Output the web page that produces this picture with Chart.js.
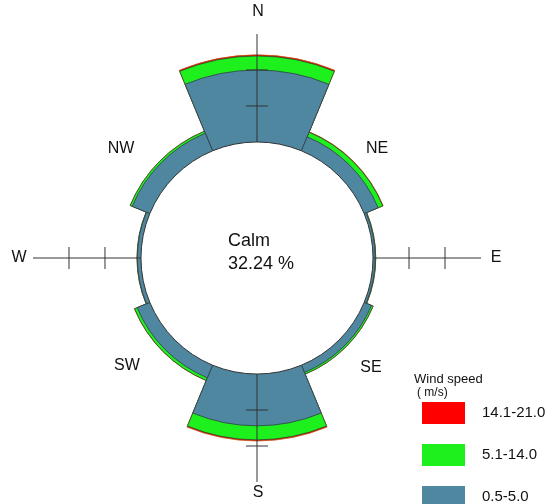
<!DOCTYPE html>
<html>
<head>
<meta charset="utf-8">
<script src="https://cdn.jsdelivr.net/npm/chart.js@4.4.1/dist/chart.umd.min.js"></script>
<style>
  html, body { margin: 0; padding: 0; background: #fff; }
  #rose { display: block; }
</style>
</head>
<body>
<canvas id="rose" width="549" height="504"></canvas>
<script>
// Wind rose data (frequency in %)
var directions = ['N', 'NE', 'E', 'SE', 'S', 'SW', 'W', 'NW'];
var calmPercent = 32.24;
var speedLow = [20.0, 4.2, 0.6, 2.2, 14.4, 3.8, 1.0, 5.3];   // 0.5-5.0
var speedMid = [3.9, 1.4, 0.15, 0.5, 3.9, 0.8, 0.1, 0.6];    // 5.1-14.0
var speedHigh = [0.3, 0.1, 0, 0, 0.3, 0.02, 0, 0];           // 14.1-21.0
var speedClasses = ['14.1-21.0', '5.1-14.0', '0.5-5.0'];
var classColors = ['#ff0000', '#1ef01e', '#4f86a0'];
var axisTicks = [10, 20];
var axisEnd = 30;

// stacked petals: each ring is the running total
var cumLow = speedLow.slice();
var cumMid = speedLow.map(function (v, i) { return v + speedMid[i]; });
var cumHigh = cumMid.map(function (v, i) { return v + speedHigh[i]; });

var labelPos = {
    N: [258, 12], S: [258, 493], W: [19, 258], E: [496, 258],
    NW: [121, 149], NE: [377, 149], SW: [127, 366], SE: [371, 368]
};

var roseDecor = {
    id: 'roseDecor',
    afterDatasetsDraw: function (chart) {
        var c = chart.ctx;
        var r = chart.scales.r;
        var cx = r.xCenter, cy = r.yCenter;
        var r0 = r.getDistanceFromCenterForValue(0);

        // calm circle
        c.save();
        c.beginPath();
        c.arc(cx, cy, r0, 0, Math.PI * 2);
        c.fillStyle = '#ffffff';
        c.fill();
        c.lineWidth = 1;
        c.strokeStyle = '#333';
        c.stroke();

        // compass axes with tick marks
        var rEnd = r.getDistanceFromCenterForValue(axisEnd);
        c.strokeStyle = '#333';
        c.lineWidth = 1;
        [[0, -1], [1, 0], [0, 1], [-1, 0]].forEach(function (d) {
            c.beginPath();
            c.moveTo(cx + d[0] * r0, cy + d[1] * r0);
            c.lineTo(cx + d[0] * rEnd, cy + d[1] * rEnd);
            c.stroke();
            axisTicks.forEach(function (t) {
                var rt = r.getDistanceFromCenterForValue(t);
                var px = cx + d[0] * rt, py = cy + d[1] * rt;
                c.beginPath();
                c.moveTo(px - d[1] * 11, py - d[0] * 11);
                c.lineTo(px + d[1] * 11, py + d[0] * 11);
                c.stroke();
            });
        });

        // direction labels
        c.fillStyle = '#111';
        c.font = '16px "Liberation Sans", Arial, sans-serif';
        c.textAlign = 'center';
        c.textBaseline = 'middle';
        Object.keys(labelPos).forEach(function (k) {
            c.fillText(k, labelPos[k][0], labelPos[k][1]);
        });

        // calm text
        c.font = '18px "Liberation Sans", Arial, sans-serif';
        c.textAlign = 'left';
        c.fillText('Calm', 228, 241);
        c.fillText(calmPercent.toFixed(2) + ' %', 228, 264);

        // legend
        c.font = '13px "Liberation Sans", Arial, sans-serif';
        c.fillText('Wind speed', 414, 379);
        c.font = '12px "Liberation Sans", Arial, sans-serif';
        c.fillText('( m/s)', 417, 393);
        c.font = '15px "Liberation Sans", Arial, sans-serif';
        speedClasses.forEach(function (lbl, i) {
            var y = 402 + i * 42;
            c.fillStyle = classColors[i];
            c.fillRect(422, y, 43, 22);
            c.fillStyle = '#111';
            c.fillText(lbl, 482, y + 11);
        });
        c.restore();
    }
};

var ctx = document.getElementById('rose').getContext('2d');
var roseChart = new Chart(ctx, {
    type: 'polarArea',
    data: {
        labels: directions,
        datasets: [{
            label: '0.5-5.0',
            data: cumLow,
            backgroundColor: classColors[2],
            borderColor: '#2f3f47',
            borderWidth: 0.8
        }, {
            label: '5.1-14.0',
            data: cumMid,
            backgroundColor: classColors[1],
            borderColor: '#2f4a2f',
            borderWidth: 0.8
        }, {
            label: '14.1-21.0',
            data: cumHigh,
            backgroundColor: classColors[0],
            borderColor: '#c05010',
            borderWidth: 0.8
        }]
    },
    options: {
        responsive: false,
        animation: false,
        devicePixelRatio: 1,
        layout: {
            padding: { left: 0, right: 35, top: 34, bottom: 22 }
        },
        scales: {
            r: {
                min: -calmPercent,
                max: axisEnd,
                startAngle: -22.5,
                ticks: { display: false },
                grid: { display: false },
                angleLines: { display: false },
                pointLabels: { display: false }
            }
        },
        plugins: {
            legend: { display: false },
            tooltip: { enabled: false }
        }
    },
    plugins: [roseDecor]
});
</script>
</body>
</html>
